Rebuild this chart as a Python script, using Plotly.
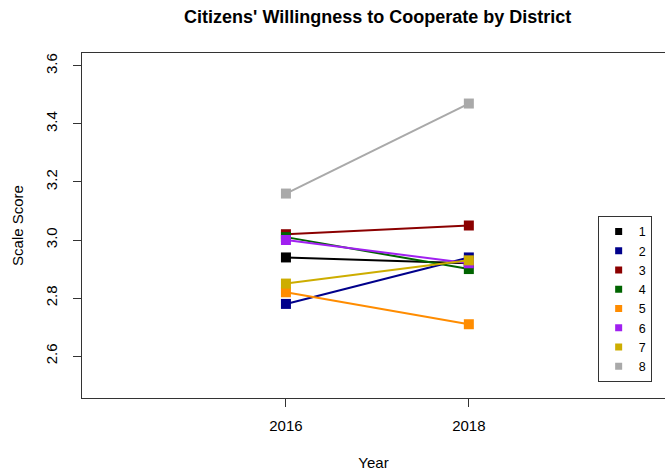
import plotly.graph_objects as go

# survey years and mean scale score per district
years = [2016, 2018]
districts = ["1", "2", "3", "4", "5", "6", "7", "8"]
score_2016 = [2.94, 2.78, 3.02, 3.01, 2.82, 3.00, 2.85, 3.16]
score_2018 = [2.92, 2.94, 3.05, 2.90, 2.71, 2.92, 2.93, 3.47]
colors = ["#000000", "#00008B", "#8B0000", "#006400",
          "#FF8C00", "#A020F0", "#CDAD00", "#A9A9A9"]

FONT = "Liberation Sans, Arial, sans-serif"

fig = go.Figure()

# lines + points for each district (no legend entry)
for name, a, b, col in zip(districts, score_2016, score_2018, colors):
    fig.add_trace(go.Scatter(
        x=years, y=[a, b], mode="lines+markers", name=name,
        line=dict(color=col, width=2),
        marker=dict(symbol="square", size=10, color=col),
        showlegend=False, hoverinfo="x+y+name"))

# legend entries: small squares only
for name, col in zip(districts, colors):
    fig.add_trace(go.Scatter(
        x=[None], y=[None], mode="markers", name=name,
        marker=dict(symbol="square", size=7, color=col),
        showlegend=True))

fig.update_layout(
    width=665, height=472,
    margin=dict(l=82, r=0, t=53, b=74),
    paper_bgcolor="white", plot_bgcolor="white",
    font=dict(family=FONT, size=15, color="black"),
    title=dict(text="<b>Citizens' Willingness to Cooperate by District</b>",
               x=(377.7 / 665), xanchor="center", y=1 - 17 / 472, yanchor="middle",
               font=dict(size=18, color="black")),
    legend=dict(x=0.8845, y=0.5276, xanchor="left", yanchor="top",
                bordercolor="#333333", borderwidth=1, bgcolor="white",
                font=dict(size=12.5), itemwidth=30, tracegroupgap=0,
                entrywidth=14, entrywidthmode="pixels"),
    xaxis=dict(range=[2013.77, 2020.145], tickvals=years,
               showgrid=False, zeroline=False,
               showline=True, mirror=True, linecolor="#333333", linewidth=1,
               ticks="outside", ticklen=8, tickcolor="#333333",
               ticklabelstandoff=6,
               title=dict(text="Year", standoff=24, font=dict(size=15))),
    yaxis=dict(range=[2.456, 3.644], tickvals=[2.6, 2.8, 3.0, 3.2, 3.4, 3.6],
               tickformat=".1f", tickangle=-90,
               showgrid=False, zeroline=False,
               showline=True, linecolor="#333333", linewidth=1,
               ticks="outside", ticklen=8, tickcolor="#333333",
               ticklabelstandoff=10,
               title=dict(text="Scale Score", standoff=15, font=dict(size=15))),
)

# page body has a default 8px margin; remove it so the figure sits at 0,0
fig.write_html("out.html", config={"displayModeBar": False},
               post_script="document.body.style.margin='0';")
